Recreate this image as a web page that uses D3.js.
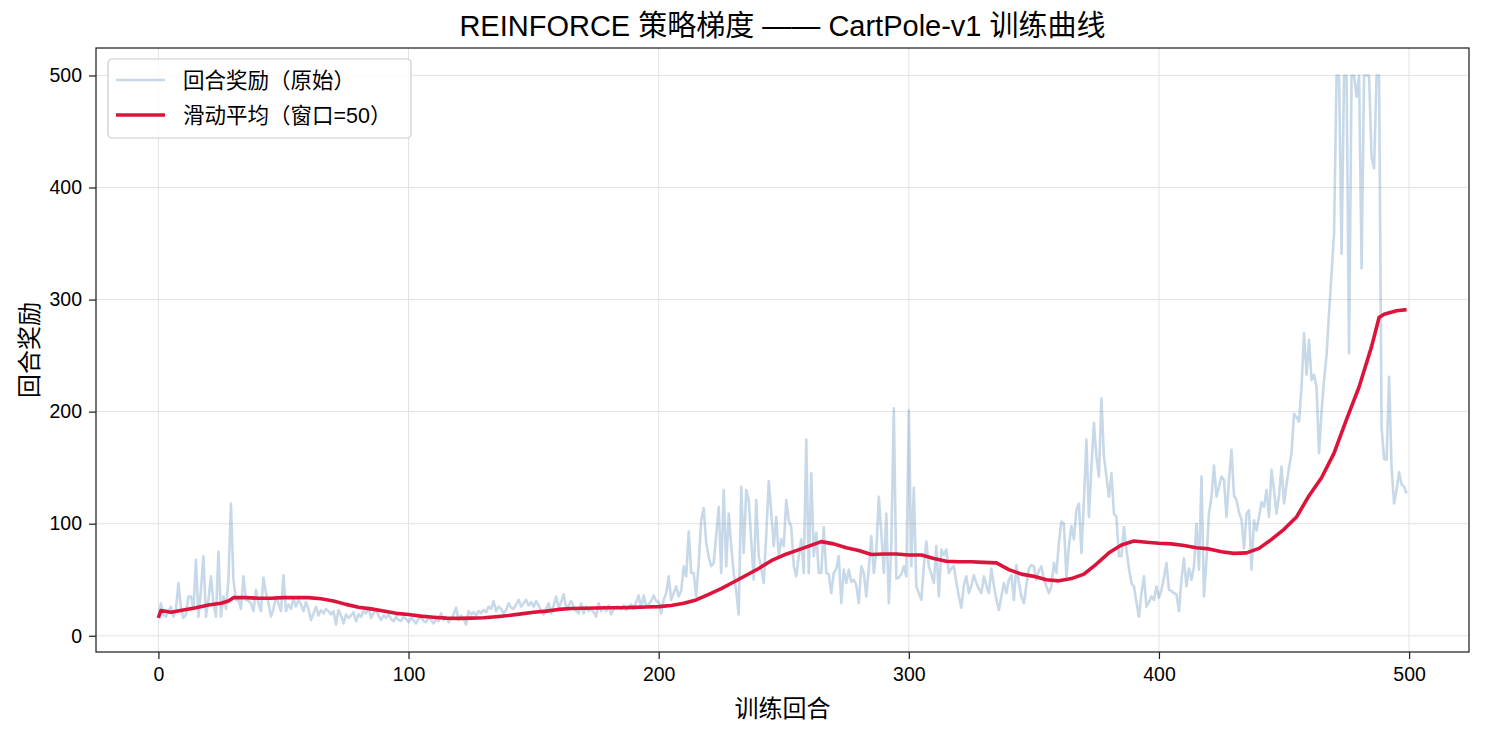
<!DOCTYPE html>
<html>
<head>
<meta charset="utf-8">
<script src="https://cdn.jsdelivr.net/npm/d3@7"></script>
<style>
    body { margin: 0; background: #fff; }
    text { font-family: "Liberation Sans", Arial, "Noto Sans CJK SC", sans-serif; fill: #000; }
</style>
</head>
<body>
<div id="chart"></div>
<script>
// raw episode rewards, episodes 0..499
var rewards = [
    16, 29, 19, 17, 22, 26, 17, 23, 47, 25,
    16, 19, 35, 35, 24, 68, 17, 41, 71, 17,
    32, 53, 29, 17, 75, 17, 35, 24, 50, 118,
    50, 32, 32, 24, 53, 32, 31, 29, 22, 41,
    29, 22, 52, 38, 29, 17, 24, 35, 29, 22,
    54, 22, 28, 24, 33, 26, 32, 28, 22, 30,
    24, 14, 20, 26, 18, 23, 20, 24, 22, 19,
    22, 10, 23, 18, 11, 19, 16, 18, 21, 13,
    19, 17, 22, 20, 25, 16, 20, 23, 18, 14,
    18, 16, 19, 15, 13, 17, 14, 13, 17, 15,
    12, 16, 14, 11, 15, 17, 13, 12, 16, 14,
    11, 15, 13, 20, 14, 17, 12, 15, 19, 25,
    14, 18, 15, 10, 22, 19, 21, 18, 22, 20,
    23, 21, 26, 24, 31, 22, 26, 24, 20, 23,
    29, 25, 24, 28, 32, 26, 29, 32, 27, 30,
    26, 31, 27, 22, 19, 24, 29, 20, 27, 35,
    25, 30, 37, 25, 27, 31, 26, 22, 20, 29,
    20, 26, 22, 24, 21, 17, 29, 22, 26, 22,
    27, 19, 24, 26, 26, 24, 27, 23, 26, 28,
    24, 30, 36, 25, 36, 26, 28, 31, 36, 31,
    30, 20, 32, 38, 53, 32, 38, 44, 35, 40,
    62, 53, 93, 56, 56, 35, 65, 103, 114, 83,
    70, 62, 65, 90, 115, 56, 130, 62, 109, 80,
    56, 40, 19, 133, 74, 130, 121, 85, 50, 121,
    71, 60, 47, 90, 138, 110, 80, 106, 71, 86,
    80, 121, 103, 97, 62, 53, 71, 86, 56, 175,
    56, 145, 71, 92, 56, 56, 97, 56, 55, 38,
    56, 60, 71, 29, 59, 47, 59, 48, 50, 45,
    29, 62, 56, 35, 60, 89, 56, 75, 124, 92,
    56, 109, 29, 80, 203, 51, 52, 55, 62, 53,
    201, 62, 132, 44, 38, 32, 62, 84, 62, 55,
    47, 80, 35, 77, 72, 77, 56, 60, 62, 48,
    35, 25, 45, 53, 38, 45, 54, 47, 42, 38,
    53, 45, 38, 60, 45, 32, 23, 35, 47, 38,
    50, 54, 32, 63, 47, 35, 29, 45, 60, 63,
    62, 50, 58, 62, 50, 44, 38, 44, 65, 56,
    83, 102, 100, 53, 80, 98, 86, 112, 118, 74,
    120, 175, 106, 150, 190, 160, 142, 212, 160, 142,
    124, 145, 109, 106, 71, 71, 97, 77, 60, 47,
    44, 30, 17, 38, 53, 26, 30, 35, 32, 44,
    34, 41, 52, 65, 41, 40, 38, 37, 22, 50,
    69, 44, 60, 50, 62, 100, 59, 142, 35, 68,
    109, 124, 152, 124, 133, 142, 139, 106, 139, 166,
    125, 121, 110, 104, 78, 109, 112, 59, 103, 94,
    106, 119, 115, 130, 106, 148, 130, 109, 125, 151,
    118, 135, 150, 163, 198, 195, 191, 222, 270, 233,
    264, 228, 233, 222, 163, 200, 228, 250, 288, 323,
    359, 500, 500, 341, 500, 500, 252, 500, 500, 481,
    500, 328, 500, 500, 500, 427, 417, 500, 500, 186,
    158, 157, 231, 150, 118, 130, 146, 135, 133, 127
];

// moving average (window 50)
var maEpisodes = [0, 1, 5, 10, 15, 20, 25, 28, 30, 35, 40, 45, 50, 55, 60, 65, 70, 75, 80, 85,
    90, 95, 100, 105, 110, 115, 120, 125, 130, 135, 140, 145, 150, 155, 160, 165, 170, 175,
    180, 185, 190, 195, 200, 205, 210, 215, 220, 225, 230, 235, 240, 245, 250, 255, 260, 265,
    270, 275, 280, 285, 290, 295, 300, 305, 310, 315, 320, 325, 330, 335, 340, 345, 350, 355,
    360, 365, 370, 375, 380, 385, 390, 395, 400, 405, 410, 415, 420, 425, 430, 435, 440, 445,
    450, 455, 460, 465, 470, 475, 480, 485, 488, 490, 495, 499];
var maValues = [16, 22.5, 21, 23, 25, 27.5, 29, 31, 34, 34, 33.5, 33.5, 34, 34, 34, 33, 31, 28, 25.5, 24,
    22, 20, 19, 17.5, 16.5, 15.7, 15.5, 15.7, 16, 17, 18, 19.5, 21, 22, 23.5, 24.3, 24.6, 24.8,
    25, 25, 25.3, 25.6, 26, 27, 29, 32, 37, 42, 48, 54, 60, 67, 72, 76, 80, 84,
    82, 78.5, 76, 72.5, 73, 73, 72, 72, 69, 66.5, 66, 66, 65.5, 65, 59, 55, 53, 50,
    49, 51, 55, 64, 74, 81, 84.5, 83.5, 82.5, 82, 80.5, 78.5, 77.5, 75, 73.5, 74, 78, 86,
    95, 106, 125, 141, 163, 193, 222, 258, 284, 287, 290, 291];

var xTicks = [0, 100, 200, 300, 400, 500];
var yTicks = [0, 100, 200, 300, 400, 500];
var legendLabels = ['回合奖励（原始）', '滑动平均（窗口=50）'];

var width = 1485, height = 734;
var margin = { top: 48, right: 16, bottom: 82, left: 96 };
var plotW = width - margin.left - margin.right;
var plotH = height - margin.top - margin.bottom;

var svg = d3.select('#chart').append('svg')
    .attr('width', width)
    .attr('height', height)
    .style('background', '#fff');

var chart = svg.append('g')
    .attr('transform', 'translate(' + margin.left + ',' + margin.top + ')');

var x = d3.scaleLinear().domain([-24.95, 523.95]).range([0, plotW]);
var y = d3.scaleLinear().domain([-14.5, 524.5]).range([plotH, 0]);

// grid
chart.append('g').selectAll('line')
    .data(xTicks)
    .enter().append('line')
    .attr('x1', function (d) { return x(d); })
    .attr('x2', function (d) { return x(d); })
    .attr('y1', 0).attr('y2', plotH)
    .style('stroke', '#e3e3e3').style('stroke-width', 1);
chart.append('g').selectAll('line')
    .data(yTicks)
    .enter().append('line')
    .attr('y1', function (d) { return y(d); })
    .attr('y2', function (d) { return y(d); })
    .attr('x1', 0).attr('x2', plotW)
    .style('stroke', '#e3e3e3').style('stroke-width', 1);

svg.append('clipPath').attr('id', 'plotClip')
    .append('rect').attr('width', plotW).attr('height', plotH);

var rawLine = d3.line()
    .x(function (d, i) { return x(i); })
    .y(function (d) { return y(d); });

chart.append('path')
    .datum(rewards)
    .attr('clip-path', 'url(#plotClip)')
    .attr('d', rawLine)
    .style('fill', 'none')
    .style('stroke', 'steelblue')
    .style('stroke-opacity', 0.3)
    .style('stroke-width', 2.6)
    .style('stroke-linejoin', 'round');

var maLine = d3.line()
    .x(function (d, i) { return x(maEpisodes[i]); })
    .y(function (d) { return y(d); });

chart.append('path')
    .datum(maValues)
    .attr('d', maLine)
    .style('fill', 'none')
    .style('stroke', '#dc143c')
    .style('stroke-width', 3.6)
    .style('stroke-linejoin', 'round');

// axes
var xAxis = chart.append('g')
    .attr('transform', 'translate(0,' + plotH + ')')
    .call(d3.axisBottom(x).tickValues(xTicks).tickSize(7).tickPadding(8).tickFormat(d3.format('d')));
var yAxis = chart.append('g')
    .call(d3.axisLeft(y).tickValues(yTicks).tickSize(7).tickPadding(7).tickFormat(d3.format('d')));

[xAxis, yAxis].forEach(function (ax) {
    ax.select('.domain').remove();
    ax.selectAll('line').style('stroke', '#222').style('stroke-width', 1.25);
    ax.selectAll('text').style('font-size', '19.5px').style('fill', '#000');
});

// frame
chart.append('rect')
    .attr('width', plotW).attr('height', plotH)
    .style('fill', 'none')
    .style('stroke', '#222')
    .style('stroke-width', 1.25);

// legend
var legend = chart.append('g').attr('transform', 'translate(12,11)');
legend.append('rect')
    .attr('width', 303).attr('height', 79)
    .attr('rx', 4).attr('ry', 4)
    .style('fill', '#fff').style('fill-opacity', 0.8)
    .style('stroke', '#cccccc').style('stroke-width', 1.2);

var legendColors = ['steelblue', '#dc143c'];
var legendWidths = [2.6, 3.6];
var legendOpac = [0.3, 1];
legendLabels.forEach(function (label, i) {
    var row = legend.append('g').attr('transform', 'translate(0,' + (21 + i * 35) + ')');
    row.append('line')
        .attr('x1', 8).attr('x2', 57)
        .style('stroke', legendColors[i])
        .style('stroke-opacity', legendOpac[i])
        .style('stroke-width', legendWidths[i]);
    row.append('text')
        .attr('x', 75).attr('y', 0)
        .attr('dy', '0.35em')
        .style('font-size', '21.5px')
        .text(label);
});

// title and axis labels
svg.append('text')
    .attr('x', margin.left + plotW / 2)
    .attr('y', 36)
    .attr('text-anchor', 'middle')
    .style('font-size', '29px')
    .text('REINFORCE 策略梯度 —— CartPole-v1 训练曲线');

svg.append('text')
    .attr('x', margin.left + plotW / 2)
    .attr('y', 717)
    .attr('text-anchor', 'middle')
    .style('font-size', '24px')
    .text('训练回合');

svg.append('text')
    .attr('transform', 'translate(38,' + (margin.top + plotH / 2) + ') rotate(-90)')
    .attr('text-anchor', 'middle')
    .style('font-size', '24px')
    .text('回合奖励');
</script>
</body>
</html>
